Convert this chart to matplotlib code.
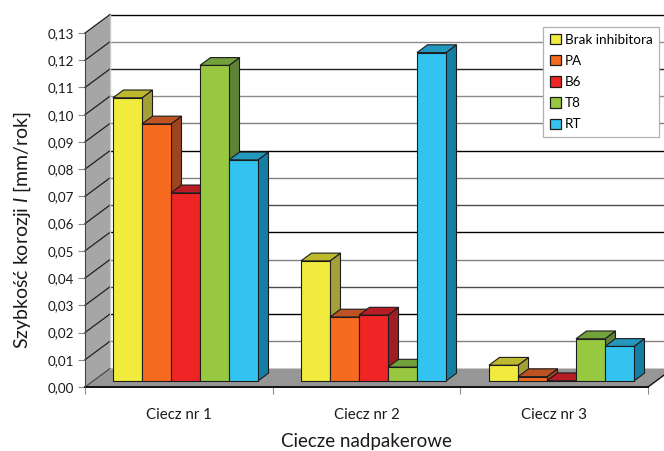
import matplotlib
matplotlib.use('Agg')
import matplotlib.pyplot as plt
from matplotlib.patches import Polygon, Patch

plt.rcParams['font.family'] = ['Lato', 'DejaVu Sans']
plt.rcParams['mathtext.fontset'] = 'custom'
plt.rcParams['mathtext.rm'] = 'Lato'
plt.rcParams['mathtext.it'] = 'Lato:italic'

# data
groups = ['Ciecz nr 1', 'Ciecz nr 2', 'Ciecz nr 3']
series = ['Brak inhibitora', 'PA', 'B6', 'T8', 'RT']
brak = [0.1040, 0.0441, 0.0058]
pa = [0.0944, 0.0235, 0.0016]
b6 = [0.0691, 0.0242, 0.0001]
t8 = [0.1159, 0.0051, 0.0155]
rt = [0.0812, 0.1206, 0.0127]
values = [brak, pa, b6, t8, rt]

yticks = [i / 100 for i in range(14)]
ylabels = [f'{v:.2f}'.replace('.', ',') for v in yticks]
# gridline shade on the back wall, it alternates in the original
grid_cols = ['#000000', '#808080', '#000000', '#4d4d4d', '#808080', '#000000', '#4d4d4d',
             '#808080', '#000000', '#808080', '#8c8c8c', '#222222', '#8c8c8c', '#000000']

front = ['#F0EB3C', '#F76B20', '#EF2424', '#98C83F', '#33C3F0']
top = ['#BDB92F', '#BD5222', '#B81D26', '#72A03B', '#2497BC']
side = ['#A3A038', '#9C451F', '#9F1E24', '#5F8237', '#147FA2']

fig = plt.figure(figsize=(6.64, 4.51), dpi=100)
W, H = 664, 451
ax = fig.add_axes([85 / W, 1 - 387 / H, (648 - 85) / W, (387 - 33) / H])
ax.set_xlim(0, 3)
ax.set_ylim(0, 0.13)

# pixel sizes turned into data units
px_x = 3 / (648 - 85)
px_y = 0.13 / (387 - 33)
wall_dx, wall_dy = 25 * px_x, 18.5 * px_y
bar_dx, bar_dy = 10.5 * px_x, 7.8 * px_y
bar_w = 29 * px_x
bar_base = 6 * px_y
starts = [(113 - 85) * px_x, (301 - 85) * px_x, (489 - 85) * px_x]


def poly(pts, fc, ec='none', lw=0, z=1):
    ax.add_patch(Polygon(pts, closed=True, facecolor=fc, edgecolor=ec, linewidth=lw,
                         zorder=z, clip_on=False, joinstyle='miter'))


# side wall and floor
poly([(0, 0), (wall_dx, wall_dy), (wall_dx, 0.13 + wall_dy), (0, 0.13)], '#a6a6a6', z=1)
poly([(0, 0), (wall_dx, wall_dy), (3 + wall_dx, wall_dy), (3, 0)], '#969696', z=1)

# gridlines
for v, c in zip(yticks, grid_cols):
    if v > 0:
        ax.plot([wall_dx, 3 + wall_dx], [v + wall_dy] * 2, color=c, lw=1.0, zorder=2, clip_on=False)
        ax.plot([0, wall_dx], [v, v + wall_dy], color='#222222', lw=0.9, zorder=2, clip_on=False)
ax.plot([wall_dx, wall_dx], [wall_dy, 0.13 + wall_dy], color='#c8c8c8', lw=1.0, zorder=2, clip_on=False)
ax.plot([0, 3], [0, 0], color='#111111', lw=1.4, zorder=3, clip_on=False)
ax.plot([3, 3 + wall_dx], [0, wall_dy], color='#111111', lw=1.0, zorder=3, clip_on=False)
ax.plot([0, wall_dx], [0, wall_dy], color='#444444', lw=0.8, zorder=3, clip_on=False)

# bars, drawn left to right so each one hides the side of the one before
edge = '#1c1c1c'
z = 4
for g, start in enumerate(starts):
    for s, vals in enumerate(values):
        x0 = start + s * bar_w
        x1 = x0 + bar_w
        b = bar_base
        t = bar_base + vals[g]
        poly([(x1, b), (x1 + bar_dx, b + bar_dy), (x1 + bar_dx, t + bar_dy), (x1, t)],
             side[s], edge, 0.8, z)
        poly([(x0, t), (x1, t), (x1 + bar_dx, t + bar_dy), (x0 + bar_dx, t + bar_dy)],
             top[s], edge, 0.8, z)
        poly([(x0, b), (x1, b), (x1, t), (x0, t)], front[s], edge, 0.8, z)
        z += 1

# axes
for name in ['top', 'right', 'bottom']:
    ax.spines[name].set_visible(False)
ax.spines['left'].set_color('#444444')
ax.spines['left'].set_zorder(3)
ax.set_yticks(yticks)
ax.set_yticklabels(ylabels)
ax.tick_params(axis='y', length=5, width=0.8, color='#8c8c8c', labelsize=9.6, pad=3, labelcolor='#1a1a1a')
ax.set_xticks([0, 1, 2, 3])
ax.set_xticklabels([])
ax.tick_params(axis='x', length=5, width=0.8, color='#8c8c8c')
ax.set_xticks([0.5, 1.5, 2.5], minor=True)
ax.set_xticklabels(groups, minor=True)
ax.tick_params(axis='x', which='minor', length=0, labelsize=10.8, pad=15, labelcolor='#1a1a1a')
ax.patch.set_alpha(0)

ax.set_xlabel('Ciecze nadpakerowe', fontsize=13.5, color='#1a1a1a')
ax.xaxis.set_label_coords(0.5, (387 - 433.5) / (387 - 33))
ax.set_ylabel('Szybkość korozji $I$ [mm/rok]', fontsize=14, color='#1a1a1a')
ax.yaxis.set_label_coords((33 - 85) / (648 - 85), (387 - 230) / (387 - 33))

# legend
handles = [Patch(facecolor=front[i], edgecolor=edge, linewidth=0.9) for i in range(5)]
leg = ax.legend(handles, series, loc='upper left',
                bbox_to_anchor=((543 - 85) / (648 - 85), (387 - 27) / (387 - 33)),
                fontsize=9.7, fancybox=False, framealpha=1, edgecolor='#b0b0b0',
                handlelength=0.8, handleheight=0.8, handletextpad=0.33, labelspacing=0.68,
                borderpad=0.5, borderaxespad=0)
leg.set_zorder(50)
leg.get_frame().set_linewidth(0.9)

fig.savefig('out.png', dpi=100)
